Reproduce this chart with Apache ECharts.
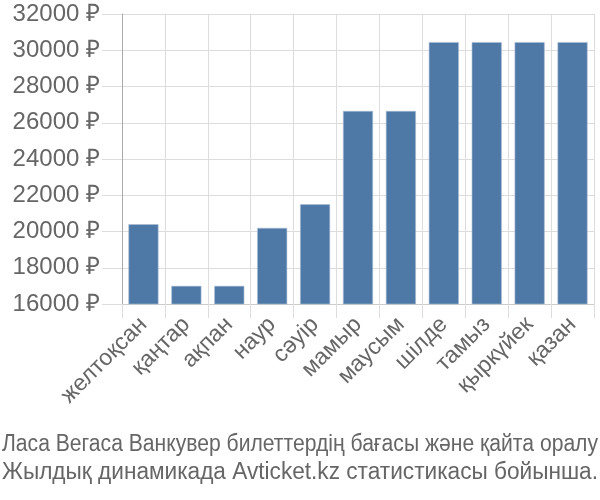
<!DOCTYPE html>
<html><head><meta charset="utf-8">
<script src="https://cdn.jsdelivr.net/npm/echarts@6/dist/echarts.min.js"></script>
<style>html,body{margin:0;padding:0;background:#fff}#c{width:600px;height:500px}</style>
</head><body><div id="c"></div>
<script>
var categories = ["желтоқсан","қаңтар","ақпан","наур","сәуір","мамыр","маусым","шілде","тамыз","қыркүйек","қазан"];
var prices = [20400, 17000, 17000, 20200, 21500, 26650, 26650, 30450, 30450, 30450, 30450];
var yTicks = {min: 16000, max: 32000, step: 2000};
var titleLines = ["Ласа Вегаса Ванкувер билеттердің бағасы және қайта оралу", "Жылдық динамикада Avticket.kz статистикасы бойынша."];

var font = "'Liberation Sans', Arial, sans-serif";
var titleFont = "23px 'Liberation Sans', Arial, sans-serif";
var ctx = document.createElement('canvas').getContext('2d');
ctx.font = titleFont;
var titleWidth = 596;
var titleBaselines = [456, 484];
var titleGraphics = titleLines.map(function (t, i) {
  var w = ctx.measureText(t).width;
  return {
    type: 'text', x: 300, y: titleBaselines[i], scaleX: Math.min(1, titleWidth / w),
    style: {text: t, font: titleFont, fill: '#666', textAlign: 'center', textVerticalAlign: 'bottom'}
  };
});

var chart = echarts.init(document.getElementById('c'), null, {renderer: 'canvas'});
chart.setOption({
  animation: false,
  graphic: titleGraphics,
  grid: {left: 122, right: 6, top: 14, bottom: 196, containLabel: false},
  xAxis: {
    type: 'category', data: categories, boundaryGap: true,
    axisLine: {show: true, lineStyle: {color: '#ccc', width: 1}},
    axisTick: {show: true, length: 14, alignWithLabel: false, lineStyle: {color: '#ddd', width: 1}},
    splitLine: {show: true, lineStyle: {color: '#ddd', width: 1}},
    axisLabel: {rotate: 45, interval: 0, fontFamily: font, fontSize: 23, color: '#666', margin: 17}
  },
  yAxis: {
    type: 'value', min: yTicks.min, max: yTicks.max, interval: yTicks.step,
    axisLine: {show: true, lineStyle: {color: '#aaa', width: 1}},
    axisTick: {show: true, length: 20, lineStyle: {color: '#ddd', width: 1}},
    splitLine: {show: true, lineStyle: {color: '#ddd', width: 1}},
    axisLabel: {formatter: function (v) { return v + ' ₽'; }, fontFamily: font, fontSize: 24, color: '#666', margin: 22}
  },
  series: [{
    type: 'bar', data: prices, barCategoryGap: '30%',
    itemStyle: {color: '#4e79a7', borderColor: '#a9bcd4', borderWidth: 0.6}
  }]
});
</script></body></html>
